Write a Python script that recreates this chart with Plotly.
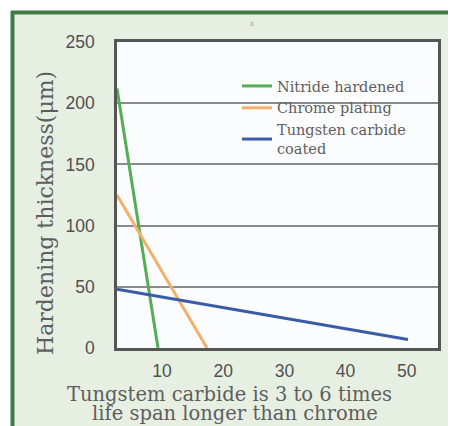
import plotly.graph_objects as go

# ---- data ----
series_names = ["Nitride hardened", "Chrome plating", "Tungsten carbide<br>coated"]
nitride_x = [2.65, 9.35]
nitride_y = [212, 0]
chrome_x = [2.65, 17.35]
chrome_y = [125, 0]
tungsten_x = [2.65, 50.2]
tungsten_y = [48, 7]
x_ticks = [10, 20, 30, 40, 50]
y_ticks = [0, 50, 100, 150, 200, 250]
colors = ["#55ad55", "#f3b06a", "#3a5ca6"]

# page has an 8px body margin; work in screen coordinates
W, H = 448, 418
L, R, T, B = 109, 18, 34, 78
pw, ph = W - L - R, H - T - B

def px(xs):
    return (xs - 117) / pw

def py(ys):
    return (348 - ys) / ph

fig = go.Figure()
for xs, ys, name, c in zip([nitride_x, chrome_x, tungsten_x],
                           [nitride_y, chrome_y, tungsten_y],
                           series_names, colors):
    fig.add_trace(go.Scatter(x=xs, y=ys, mode="lines", name=name,
                             line=dict(color=c, width=3)))

tick_font = dict(family="Liberation Sans, Arial, sans-serif", size=17.5, color="#505050")
serif = "DejaVu Serif, serif"
txt_col = "#5e5e5e"

fig.update_layout(
    width=W, height=H,
    margin=dict(l=L, r=R, t=T, b=B),
    paper_bgcolor="#e7efe3",
    plot_bgcolor="#fbfcfd",
    showlegend=True,
    legend=dict(x=px(237), y=py(70), xanchor="left", yanchor="top",
                bgcolor="rgba(0,0,0,0)", borderwidth=0,
                font=dict(family=serif, size=14.5, color=txt_col),
                tracegroupgap=0),
    xaxis=dict(range=[2.65, 55.1], tickvals=x_ticks, showgrid=False,
               zeroline=False, showline=True, mirror=True,
               linecolor="#555555", linewidth=2.5, ticks="",
               tickfont=tick_font, ticklabelstandoff=5),
    yaxis=dict(range=[0, 250], tickvals=y_ticks, showgrid=True,
               gridcolor="#8a8a8a", gridwidth=2, zeroline=False,
               showline=True, mirror=True, linecolor="#555555",
               linewidth=2.5, ticks="", tickfont=tick_font,
               ticklabelstandoff=16),
    shapes=[
        dict(type="rect", xref="paper", yref="paper", x0=px(0), x1=px(11),
             y0=py(0), y1=py(H + 20), fillcolor="white", line_width=0, layer="below"),
        dict(type="rect", xref="paper", yref="paper", x0=px(0), x1=px(W + 20),
             y0=py(0), y1=py(11), fillcolor="white", line_width=0, layer="below"),
        dict(type="line", xref="paper", yref="paper", x0=px(12.5), x1=px(12.5),
             y0=py(11), y1=py(H + 20), line=dict(color="#3f7a43", width=4), layer="below"),
        dict(type="line", xref="paper", yref="paper", x0=px(11), x1=px(W + 20),
             y0=py(12.5), y1=py(12.5), line=dict(color="#3f7a43", width=4), layer="below"),
        dict(type="rect", xref="paper", yref="paper", x0=px(203), x1=px(436),
             y0=py(150), y1=py(70), fillcolor="#fbfcfd", line_width=0, layer="between"),
    ],
    annotations=[
        dict(text="Hardening thickness(μm)", xref="paper", yref="paper",
             x=px(45), y=py(213), xanchor="center", yanchor="middle",
             textangle=-90, showarrow=False,
             font=dict(family=serif, size=22, color=txt_col)),
        dict(text="Tungstem carbide is 3 to 6 times", xref="paper", yref="paper",
             x=px(229), y=py(394), xanchor="center", yanchor="middle", showarrow=False,
             font=dict(family=serif, size=19.5, color=txt_col)),
        dict(text="life span longer than chrome", xref="paper", yref="paper",
             x=px(235), y=py(413), xanchor="center", yanchor="middle", showarrow=False,
             font=dict(family=serif, size=19.5, color=txt_col)),
        dict(text="ɛ", xref="paper", yref="paper", x=px(252), y=py(22),
             xanchor="center", yanchor="middle",
             showarrow=False, font=dict(size=8, color="#9aa59a")),
    ],
)

fig.write_html("out.html")
